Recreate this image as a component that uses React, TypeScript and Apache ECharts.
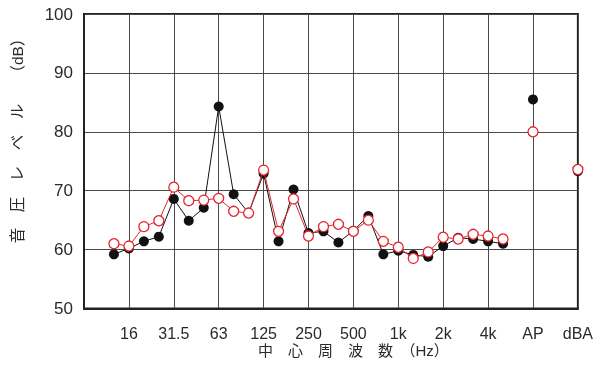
import React, { useEffect, useRef } from "react";
import * as echarts from "echarts";

// 1/3-octave band centre frequencies (positions 2..28 on the 1/3-octave axis, 8 Hz = 0)
const bands = ["12.5", "16", "20", "25", "31.5", "40", "50", "63", "80", "100", "125", "160", "200", "250", "315", "400", "500", "630", "800", "1k", "1.25k", "1.6k", "2k", "2.5k", "3.15k", "4k", "5k"];
const blackValues = [59.2, 60.2, 61.4, 62.2, 68.6, 64.9, 67.1, 84.3, 69.4, 66.2, 72.9, 61.4, 70.2, 62.8, 63.1, 61.2, 63.2, 65.7, 59.2, 59.8, 59.1, 58.8, 60.6, 62.0, 61.8, 61.4, 61.0];
const redValues = [61.0, 60.6, 63.9, 64.9, 70.6, 68.3, 68.4, 68.7, 66.5, 66.2, 73.5, 63.1, 68.6, 62.3, 63.9, 64.3, 63.1, 65.0, 61.4, 60.4, 58.5, 59.6, 62.1, 61.8, 62.6, 62.3, 61.8];
// overall values: AP, dBA
const overallLabels = ["AP", "dBA"];
const blackOverall = [85.5, 73.3];
const redOverall = [80.0, 73.6];
// x tick labels every octave (3 steps of 1/3 octave)
const xTickLabels = ["", "16", "31.5", "63", "125", "250", "500", "1k", "2k", "4k", "AP", "dBA"];
const yTicks = [50, 60, 70, 80, 90, 100];

const FIRST_BAND_POS = 2;
const OVERALL_POS = [30, 33];

export default function App() {
  const ref = useRef<HTMLDivElement>(null);
  useEffect(() => {
    if (!ref.current) return;
    const chart = echarts.init(ref.current, null, { renderer: "svg" });
    const font = "'Liberation Sans', 'Noto Sans CJK JP', sans-serif";
    const blackData = blackValues.map((v, i) => [FIRST_BAND_POS + i, v]);
    const redData = redValues.map((v, i) => [FIRST_BAND_POS + i, v]);
    const blackOv = blackOverall.map((v, i) => [OVERALL_POS[i], v]);
    const redOv = redOverall.map((v, i) => [OVERALL_POS[i], v]);
    chart.setOption({
      animation: false,
      grid: { left: 84, right: 17, top: 14, bottom: 56.5, show: true, borderColor: "#222", borderWidth: 2, backgroundColor: "transparent" },
      xAxis: {
        type: "value",
        min: 0,
        max: 33,
        interval: 3,
        axisLine: { show: true, lineStyle: { color: "#222", width: 2 } },
        axisTick: { show: false },
        splitLine: { show: true, lineStyle: { color: "#4a4a4a", width: 1 } },
        axisLabel: {
          show: true,
          showMaxLabel: true,
          showMinLabel: true,
          margin: 17,
          color: "#2a2a2a",
          fontSize: 16,
          fontFamily: font,
          formatter: (v: number) => xTickLabels[Math.round(v / 3)] ?? "",
        },
      },
      yAxis: {
        type: "value",
        min: yTicks[0],
        max: yTicks[yTicks.length - 1],
        interval: 10,
        axisLine: { show: true, lineStyle: { color: "#222", width: 2 } },
        axisTick: { show: false },
        splitLine: { show: true, lineStyle: { color: "#4a4a4a", width: 1 } },
        axisLabel: { margin: 11, color: "#2a2a2a", fontSize: 17, fontFamily: font },
      },
      graphic: [
        {
          type: "text",
          left: 258,
          top: 343,
          style: { text: "中　心　周　波　数　（Hz）", fontSize: 15, fontFamily: font, fill: "#2a2a2a" },
        },
        {
          type: "text",
          x: 17,
          y: 137,
          rotation: Math.PI / 2,
          style: { text: "音　圧　レ　ベ　ル　　（dB）", fontSize: 15.5, fontFamily: font, fill: "#2a2a2a", align: "center", verticalAlign: "middle" },
        },
      ],
      series: [
        {
          type: "line",
          name: "black",
          data: blackData,
          symbol: "circle",
          symbolSize: 10,
          lineStyle: { color: "#111", width: 1 },
          itemStyle: { color: "#111", borderColor: "#111", borderWidth: 0 },
          z: 2,
        },
        {
          type: "scatter",
          name: "black-overall",
          data: blackOv,
          symbol: "circle",
          symbolSize: 10,
          clip: false,
          itemStyle: { color: "#111", opacity: 1 },
          z: 2,
        },
        {
          type: "line",
          name: "red",
          data: redData,
          symbol: "circle",
          symbolSize: 10,
          showAllSymbol: true,
          lineStyle: { color: "#e3262d", width: 1 },
          itemStyle: { color: "#fff", borderColor: "#e3262d", borderWidth: 1.3 },
          z: 3,
        },
        {
          type: "scatter",
          name: "red-overall",
          data: redOv,
          symbol: "circle",
          symbolSize: 10,
          clip: false,
          itemStyle: { color: "#fff", borderColor: "#e3262d", borderWidth: 1.3, opacity: 1 },
          z: 3,
        },
      ],
    });
    return () => chart.dispose();
  }, []);
  return <div ref={ref} style={{ position: "fixed", left: 0, top: 0, width: 596, height: 365 }} />;
}
